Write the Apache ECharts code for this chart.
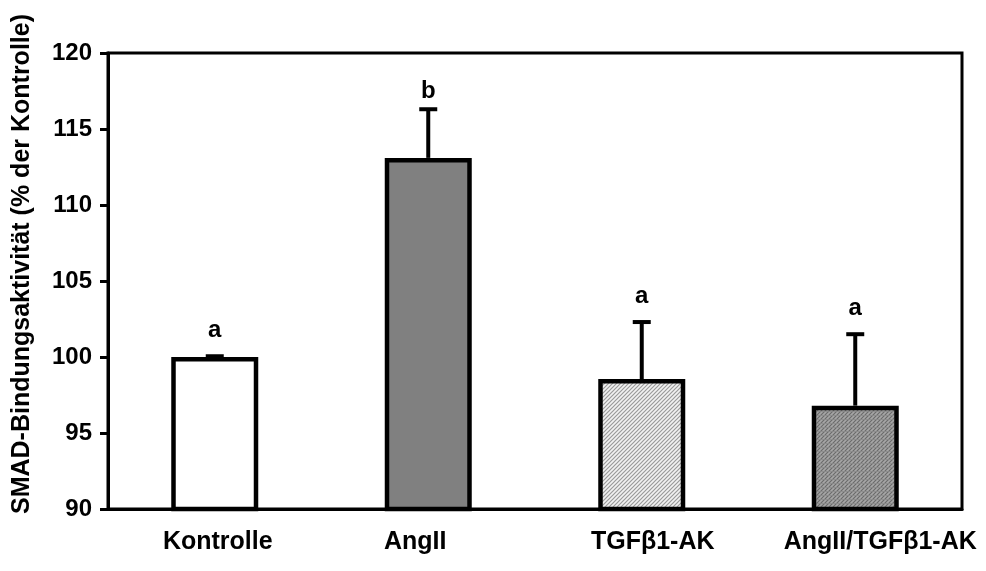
<!DOCTYPE html>
<html>
<head>
<meta charset="utf-8">
<script src="https://cdn.jsdelivr.net/npm/echarts@6/dist/echarts.min.js"></script>
<style>
html,body{margin:0;padding:0;background:#fff;}
#c{width:986px;height:571px;}
</style>
</head>
<body>
<div id="c"></div>
<script>
var categories = ['Kontrolle', 'AngII', 'TGFβ1-AK', 'AngII/TGFβ1-AK'];
var means = [100.0, 113.1, 98.55, 96.8];
var errors = [0.05, 3.2, 3.75, 4.7];
var letters = ['a', 'b', 'a', 'a'];
var yTicks = { min: 90, max: 120, interval: 5 };
var yTitle = 'SMAD-Bindungsaktivität (% der Kontrolle)';

// styling: small horizontal nudges of category labels and letter gaps (px)
var labelPad = [[0, 0, 0, 6], [0, 26, 0, 0], [0, 0, 0, 22], [0, 0, 0, 50]];
var letterGap = [14, 6, 14, 14];

function makePattern(bg, line, spacing, cross) {
  var c = document.createElement('canvas');
  c.width = spacing; c.height = spacing;
  var g = c.getContext('2d');
  g.fillStyle = bg; g.fillRect(0, 0, spacing, spacing);
  g.strokeStyle = line; g.lineWidth = 1.2;
  g.beginPath();
  g.moveTo(0, spacing); g.lineTo(spacing, 0);
  g.moveTo(-spacing, spacing); g.lineTo(spacing, -spacing);
  g.moveTo(0, 2 * spacing); g.lineTo(2 * spacing, 0);
  g.stroke();
  if (cross) {
    g.strokeStyle = cross; g.lineWidth = 0.8;
    g.beginPath();
    g.moveTo(0, spacing - 0.5); g.lineTo(spacing, spacing - 0.5);
    g.stroke();
  }
  return c;
}
var lightPat = makePattern('#f2f2f2', '#9a9a9a', 4, null);
var darkPat = makePattern('#a6a6a6', '#6a6a6a', 4, '#8a8a8a');

var fills = ['#ffffff', '#808080', { image: lightPat, repeat: 'repeat' }, { image: darkPat, repeat: 'repeat' }];

var barData = means.map(function (v, i) {
  return { value: v, itemStyle: { color: fills[i] } };
});
var errData = means.map(function (v, i) { return [i, v, v + errors[i], letters[i]]; });

var FONT = 'Liberation Sans, Arial, sans-serif';
var rich = {};
labelPad.forEach(function (p, i) {
  rich['l' + i] = { color: '#000', fontFamily: FONT, fontWeight: 'bold', fontSize: 25, padding: p };
});

var chart = echarts.init(document.getElementById('c'), null, { renderer: 'canvas' });
chart.setOption({
  animation: false,
  backgroundColor: '#fff',
  grid: { left: 108, right: 24, top: 53, bottom: 62, show: true, borderColor: '#000', borderWidth: 3, backgroundColor: 'transparent' },
  xAxis: {
    type: 'category', data: categories,
    axisLine: { lineStyle: { color: '#000', width: 3 } },
    axisTick: { show: false },
    axisLabel: {
      color: '#000', fontFamily: FONT, fontWeight: 'bold', fontSize: 25, margin: 21, interval: 0,
      formatter: function (v, i) { return '{l' + i + '|' + v + '}'; },
      rich: rich
    }
  },
  yAxis: {
    type: 'value', min: yTicks.min, max: yTicks.max, interval: yTicks.interval,
    axisLine: { show: true, lineStyle: { color: '#000', width: 3 } },
    axisTick: { show: true, length: 8, lineStyle: { color: '#000', width: 3 } },
    axisLabel: { color: '#000', fontFamily: FONT, fontWeight: 'bold', fontSize: 24, margin: 16 },
    splitLine: { show: false }
  },
  graphic: [{
    type: 'text', rotation: Math.PI / 2,
    x: 22, y: 264,
    style: { text: yTitle, fill: '#000', font: 'bold 25px ' + FONT, textAlign: 'center', textVerticalAlign: 'middle' }
  }],
  series: [
    {
      type: 'bar', data: barData, barWidth: 87,
      itemStyle: { borderColor: '#000', borderWidth: 4.5 }
    },
    {
      type: 'custom', data: errData,
      renderItem: function (params, api) {
        var x = api.value(0);
        var p0 = api.coord([x, api.value(1)]);
        var p1 = api.coord([x, api.value(2)]);
        var cap = 9;
        var i = params.dataIndex;
        return {
          type: 'group',
          children: [
            { type: 'line', shape: { x1: p0[0], y1: p0[1], x2: p1[0], y2: p1[1] }, style: { stroke: '#000', lineWidth: 4 } },
            { type: 'line', shape: { x1: p1[0] - cap, y1: p1[1], x2: p1[0] + cap, y2: p1[1] }, style: { stroke: '#000', lineWidth: 4 } },
            { type: 'text', x: p1[0], y: p1[1] - letterGap[i], style: { text: letters[i], fill: '#000', font: 'bold 24px ' + FONT, textAlign: 'center', textVerticalAlign: 'bottom' } }
          ]
        };
      },
      z: 5
    }
  ]
});
</script>
</body>
</html>
